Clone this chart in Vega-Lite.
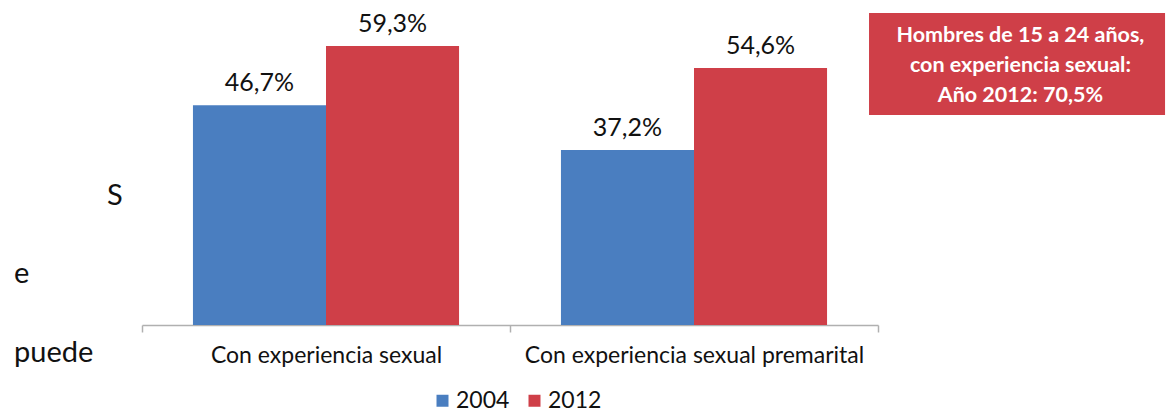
{
  "$schema": "https://vega.github.io/schema/vega-lite/v6.json",
  "autosize": "none",
  "width": 736,
  "height": 325,
  "padding": {"left": 142, "top": 0, "right": 297, "bottom": 87},
  "background": "white",
  "config": {
    "view": {"stroke": null},
    "font": "Lato",
    "locale": {"number": {"decimal": ",", "thousands": ".", "grouping": [3], "currency": ["", " €"]}}
  },
  "datasets": {
    "barras": [
      {"categoria": "Con experiencia sexual", "anio": "2004", "valor": 0.467},
      {"categoria": "Con experiencia sexual", "anio": "2012", "valor": 0.593},
      {"categoria": "Con experiencia sexual premarital", "anio": "2004", "valor": 0.372},
      {"categoria": "Con experiencia sexual premarital", "anio": "2012", "valor": 0.546}
    ],
    "nota": [
      {"texto": "Hombres de 15 a 24 años,\ncon experiencia sexual:\nAño 2012: 70,5%"}
    ]
  },
  "layer": [
    {
      "data": {"name": "barras"},
      "encoding": {
        "x": {
          "field": "categoria", "type": "nominal", "sort": null, "title": null,
          "scale": {"paddingInner": 0, "paddingOuter": 0},
          "axis": {
            "labelAngle": 0, "labelFontSize": 23, "labelColor": "#111111", "labelFont": "Lato", "labelLimit": 0,
            "domainColor": "#b0b0b0", "domainWidth": 1.5, "tickColor": "#b0b0b0", "tickWidth": 1.5,
            "tickSize": 7, "tickBand": "extent", "labelPadding": 12
          }
        },
        "xOffset": {"field": "anio", "type": "nominal", "scale": {"paddingInner": 0, "paddingOuter": 0.383}},
        "y": {
          "field": "valor", "type": "quantitative",
          "scale": {"domain": [0, 0.6908], "nice": false}, "axis": null
        }
      },
      "layer": [
        {
          "mark": {"type": "bar"},
          "encoding": {
            "color": {
              "field": "anio", "type": "nominal", "title": null,
              "scale": {"domain": ["2004", "2012"], "range": ["#4A7EC0", "#CF3F48"]},
              "legend": {
                "orient": "none", "legendX": 289, "legendY": 389, "direction": "horizontal",
                "symbolType": "square", "symbolSize": 144, "symbolStrokeWidth": 0,
                "labelFontSize": 23, "labelColor": "#111111", "labelFont": "Lato",
                "labelOffset": 2, "columnPadding": 13, "padding": 0
              }
            }
          }
        },
        {
          "mark": {"type": "text", "baseline": "bottom", "dy": -9, "fontSize": 25, "color": "#111111", "font": "Lato"},
          "encoding": {
            "text": {"field": "valor", "type": "quantitative", "format": ".1%"}
          }
        }
      ]
    },
    {
      "encoding": {},
      "layer": [
        {
          "data": {"name": "nota"},
          "mark": {"type": "rect", "color": "#CF3F48", "clip": false},
          "encoding": {
            "x": {"datum": 0.9878, "type": "quantitative", "scale": {"domain": [0, 1], "nice": false, "zero": false}, "axis": null},
            "x2": {"datum": 1.39},
            "y": {"datum": 0.04, "type": "quantitative", "scale": {"domain": [0, 1], "nice": false, "zero": false, "reverse": true}, "axis": null},
            "y2": {"datum": 0.3538}
          }
        },
        {
          "data": {"name": "nota"},
          "mark": {"type": "text", "color": "white", "fontWeight": "bold", "fontSize": 21.5, "font": "Lato", "align": "center", "baseline": "middle", "lineBreak": "\n", "lineHeight": 30, "clip": false},
          "encoding": {
            "x": {"datum": 1.1935, "type": "quantitative"},
            "y": {"datum": 0.111, "type": "quantitative"},
            "text": {"field": "texto", "type": "nominal"}
          }
        },
        {
          "data": {"values": [{"texto": "S"}]},
          "mark": {"type": "text", "fontSize": 29, "font": "Lato", "color": "#111111", "align": "left", "baseline": "alphabetic", "clip": false},
          "encoding": {
            "x": {"datum": -0.0476, "type": "quantitative"},
            "y": {"datum": 0.631, "type": "quantitative"},
            "text": {"field": "texto", "type": "nominal"}
          }
        },
        {
          "data": {"values": [{"texto": "e"}]},
          "mark": {"type": "text", "fontSize": 29, "font": "Lato", "color": "#111111", "align": "left", "baseline": "alphabetic", "clip": false},
          "encoding": {
            "x": {"datum": -0.1739, "type": "quantitative"},
            "y": {"datum": 0.871, "type": "quantitative"},
            "text": {"field": "texto", "type": "nominal"}
          }
        },
        {
          "data": {"values": [{"texto": "puede"}]},
          "mark": {"type": "text", "fontSize": 29, "font": "Lato", "color": "#111111", "align": "left", "baseline": "alphabetic", "clip": false},
          "encoding": {
            "x": {"datum": -0.1739, "type": "quantitative"},
            "y": {"datum": 1.113, "type": "quantitative"},
            "text": {"field": "texto", "type": "nominal"}
          }
        }
      ]
    }
  ],
  "resolve": {"scale": {"x": "independent", "y": "independent"}}
}
